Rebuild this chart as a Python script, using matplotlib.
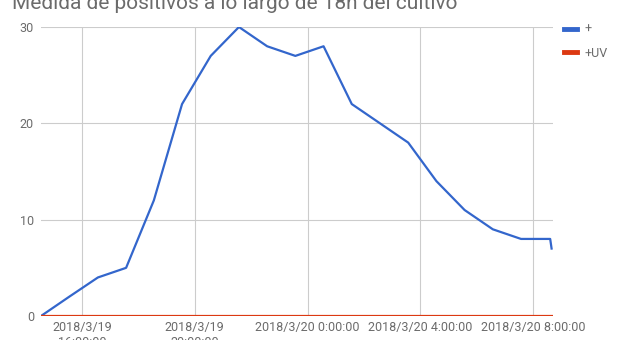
import matplotlib
matplotlib.use('Agg')
import matplotlib.pyplot as plt
import pandas as pd
from matplotlib.lines import Line2D

plt.rcParams['font.family'] = ['Roboto', 'DejaVu Sans']

# datos
tiempos = ['2018-03-19 14:33', '2018-03-19 15:33', '2018-03-19 16:34', '2018-03-19 17:34',
           '2018-03-19 18:33', '2018-03-19 19:33', '2018-03-19 20:34', '2018-03-19 21:34',
           '2018-03-19 22:34', '2018-03-19 23:34', '2018-03-20 00:34', '2018-03-20 01:34',
           '2018-03-20 02:34', '2018-03-20 03:34', '2018-03-20 04:34', '2018-03-20 05:34',
           '2018-03-20 06:34', '2018-03-20 07:34', '2018-03-20 08:36', '2018-03-20 08:39']
positivos = [0, 2, 4, 5, 12, 22, 27, 30, 28, 27, 28, 22, 20, 18, 14, 11, 9, 8, 8, 7]
positivos_uv = [0, 0, 0, 0, 0, 0, 0, 0, 0, 0, 0, 0, 0, 0, 0, 0, 0, 0, 0, 0]

ticks = ['2018-03-19 16:00', '2018-03-19 20:00', '2018-03-20 00:00',
         '2018-03-20 04:00', '2018-03-20 08:00']
etiquetas = ['2018/3/19\n16:00:00', '2018/3/19\n20:00:00', '2018/3/20 0:00:00',
             '2018/3/20 4:00:00', '2018/3/20 8:00:00']
series = ['+', '+UV']

azul = '#3366cc'
rojo = '#dc3912'
gris = '#6b6b6b'

x = pd.to_datetime(tiempos)

fig = plt.figure(figsize=(6.17, 3.40), dpi=100)
ax = fig.add_axes([41/617, 1 - 316/340, (553 - 41)/617, (316 - 27)/340])

ax.plot(x, positivos, color=azul, lw=1.6, label=series[0], zorder=3)
ax.plot(x, positivos_uv, color=rojo, lw=1.6, label=series[1], zorder=4)

ax.set_xlim(pd.Timestamp('2018-03-19 14:33'), pd.Timestamp('2018-03-20 08:42'))
ax.set_ylim(0, 30)
ax.set_yticks([0, 10, 20, 30])
ax.set_xticks(pd.to_datetime(ticks))
ax.set_xticklabels(etiquetas)

ax.grid(True, color='#cccccc', lw=0.8)
ax.set_axisbelow(True)
for s in ax.spines.values():
    s.set_visible(False)
ax.tick_params(length=0, colors=gris, labelsize=9)
ax.tick_params(axis='x', pad=3.5)
ax.tick_params(axis='y', pad=5)

fig.text(12/617, 1 - 9/340, 'Medida de positivos a lo largo de 18h del cultivo',
         fontsize=15, color=gris, va='baseline', ha='left')

handles = [Line2D([], [], color=azul, lw=3.5), Line2D([], [], color=rojo, lw=3.5)]
fig.legend(handles, series, loc='upper left', bbox_to_anchor=(564/617, 1 - 23/340),
           frameon=False, fontsize=9, handlelength=1.0, handletextpad=0.6,
           labelspacing=0.85, borderpad=0, borderaxespad=0, labelcolor=gris)

fig.savefig('out.png', dpi=100)
